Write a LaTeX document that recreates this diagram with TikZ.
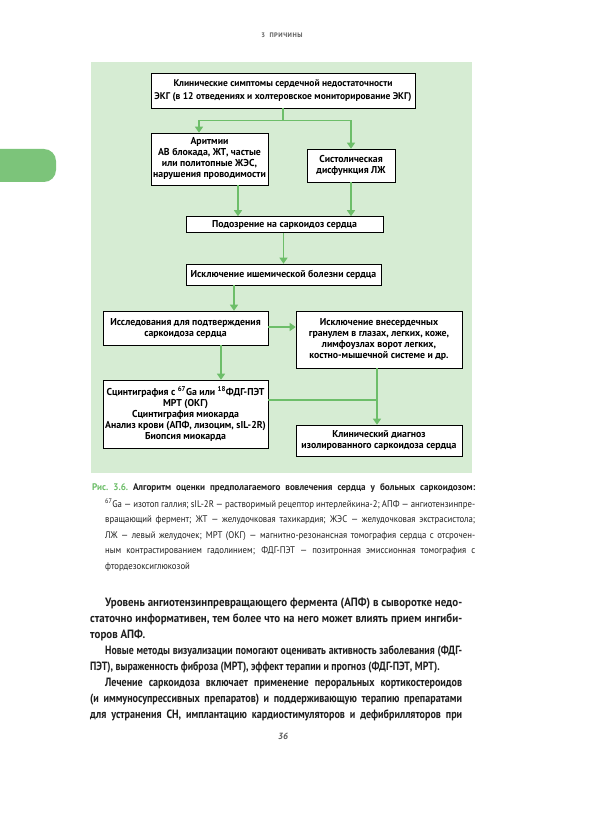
\documentclass[tikz,border=0pt]{standalone}
\usepackage{fontspec}
\setmainfont{PT Sans}
\newfontfamily\flowfont{PT Sans}[FakeStretch=0.98]
\newfontfamily\capfont{PT Sans}[FakeStretch=0.91]
\newfontfamily\capwide{PT Sans}[FakeStretch=0.95]
\newfontfamily\bodyfont{PT Sans}[FakeStretch=0.91]
\newfontfamily\bodytight{PT Sans}[FakeStretch=0.82]
\newfontfamily\bodymid{PT Sans}[FakeStretch=0.84]
\usepackage{xcolor}
\definecolor{panel}{HTML}{D6ECD3}
\definecolor{arrowgreen}{HTML}{6DBE69}
\definecolor{tabgreen}{HTML}{7CC47A}
\definecolor{textgray}{HTML}{5A5A5A}
\definecolor{bodytext}{HTML}{1E1E1E}
\usetikzlibrary{arrows.meta, positioning, calc, shadows}

\begin{document}
\begin{tikzpicture}[x=1pt, y=-1pt,
  every node/.style={font=\flowfont\fontsize{10}{11}\selectfont\bfseries},
  flowbox/.style={draw=black, line width=0.6pt, fill=white, align=center,
                  inner sep=2pt, drop shadow={shadow xshift=0.9pt,
                  shadow yshift=-0.9pt, fill=black!60, opacity=1}},
  flowarr/.style={-{Triangle[length=6pt, width=8pt]}, line width=1.4pt, arrowgreen},
  flowline/.style={line width=1.4pt, arrowgreen}
]
  \useasboundingbox (0,0) rectangle (590,834);
  \fill[white] (0,0) rectangle (590,834);

  % page furniture
  \fill[tabgreen, rounded corners=12pt] (-20,149) rectangle (56,182);
  \node[font=\fontsize{6.5}{8}\selectfont\bfseries, text=textgray] (head) at (282,35)
    {\addfontfeatures{LetterSpace=8}3\ \ ПРИЧИНЫ};
  \fill[panel] (91,62) rectangle (472,473);

  % flowchart
  \node[flowbox, minimum width=264pt, minimum height=35pt,
        font=\flowfont\fontsize{9.7}{12.5}\selectfont\bfseries] (clin) at (283,90.5)
    {Клинические симптомы сердечной недостаточности\\ЭКГ (в 12 отведениях и холтеровское мониторирование ЭКГ)};
  \node[flowbox, minimum width=117pt, minimum height=52pt] (arrh) at (209.5,159)
    {Аритмии\\АВ блокада, ЖТ, частые\\или политопные ЖЭС,\\нарушения проводимости};
  \node[flowbox, minimum width=88pt, minimum height=33pt] (sys) at (351,165.5)
    {Систолическая\\дисфункция ЛЖ};
  \node[flowbox, minimum width=197pt, minimum height=16pt] (susp) at (284.5,224.5)
    {Подозрение на саркоидоз сердца};
  \node[flowbox, minimum width=195pt, minimum height=21pt] (isch) at (283.5,274.5)
    {Исключение ишемической болезни сердца};
  \node[flowbox, minimum width=165pt, minimum height=34pt] (studies) at (185.5,328)
    {Исследования для подтверждения\\саркоидоза сердца};
  \node[flowbox, minimum width=166pt, minimum height=57pt] (extra) at (379,339.5)
    {Исключение внесердечных\\гранулем в глазах, легких, коже,\\лимфоузлах ворот легких,\\костно-мышечной системе и др.};
  \node[flowbox, minimum width=165pt, minimum height=68pt] (scint) at (185.5,414)
    {Сцинтиграфия с \textsuperscript{67}Ga или \textsuperscript{18}ФДГ-ПЭТ\\МРТ (ОКГ)\\Сцинтиграфия миокарда\\Анализ крови (АПФ, лизоцим, sIL-2R)\\Биопсия миокарда};
  \node[flowbox, minimum width=166pt, minimum height=31pt] (diag) at (379,440.5)
    {Клинический диагноз\\изолированного саркоидоза сердца};

  \draw[flowline] (clin.south) -- ++(0,12) coordinate (split);
  \draw[flowarr] (split) -| ([xshift=-10.5pt]arrh.north);
  \draw[flowarr] (split) -| (sys.north);
  \draw[flowarr] ([xshift=28.5pt]arrh.south) -- ([xshift=28.5pt]arrh.south |- susp.north);
  \draw[flowarr] (sys.south) -- (sys.south |- susp.north);
  \draw[flowarr] ([xshift=-1pt]susp.south) -- ([xshift=-1pt]susp.south |- isch.north);
  \draw[flowarr] ([xshift=-49.5pt]isch.south) -- ([xshift=-49.5pt]isch.south |- studies.north);
  \draw[flowarr] ([yshift=1pt]studies.east) -- ([yshift=1pt]studies.east -| extra.west);
  \draw[flowarr] ([xshift=35.5pt]studies.south) -- ([xshift=35.5pt]studies.south |- scint.north);
  \coordinate (join) at ([xshift=-2pt]extra.south);
  \draw[flowarr] (join) -- (join |- diag.north);
  \draw[flowline] ([yshift=14pt]scint.east) -- ([yshift=14pt]scint.east -| join);

  % caption
  \node[anchor=north west, inner sep=0pt, text width=383pt, align=justify,
        text=bodytext, font=\capwide\fontsize{9.6}{15.5}\selectfont\bfseries] (capline) at (92,483)
    {\frenchspacing{\color{arrowgreen}Рис. 3.6.} Алгоритм оценки предполагаемого вовлечения сердца у больных саркоидозом:{\parfillskip=0pt\par}};
  \node[anchor=north west, inner sep=0pt, text width=370pt, align=justify,
        text=bodytext, font=\capfont\fontsize{9.6}{15.5}\selectfont] (capbody) at (105,498.5)
    {\textsuperscript{67}Ga — изотоп галлия; sIL-2R — растворимый рецептор интерлейкина-2; АПФ — ангиотензинпре-\linebreak
     вращающий фермент; ЖТ — желудочковая тахикардия; ЖЭС — желудочковая экстрасистола;\linebreak
     ЛЖ — левый желудочек; МРТ (ОКГ) — магнитно-резонансная томография сердца с отсрочен-\linebreak
     ным контрастированием гадолинием; ФДГ-ПЭТ — позитронная эмиссионная томография с\linebreak
     фтордезоксиглюкозой};

  % body text
  \node[anchor=north west, inner sep=0pt, text width=372pt, align=justify,
        text=bodytext, font=\bodyfont\fontsize{12}{16}\selectfont\bfseries] (body) at (90,598)
    {\parindent=15pt\hspace*{15pt}Уровень ангиотензинпревращающего фермента (АПФ) в сыворотке недо-\linebreak
     статочно информативен, тем более что на него может влиять прием ингиби-\linebreak
     торов АПФ.\par
     {\bodytight Новые методы визуализации помогают оценивать активность заболевания (ФДГ-\linebreak
     ПЭТ), выраженность фиброза (МРТ), эффект терапии и прогноз (ФДГ-ПЭТ, МРТ).\par}
     {\bodymid Лечение саркоидоза включает применение пероральных кортикостероидов\linebreak
     (и иммуносупрессивных препаратов) и поддерживающую терапию препаратами\linebreak
     для устранения СН, имплантацию кардиостимуляторов и дефибрилляторов при{\parfillskip=0pt\par}}};

  \node[font=\fontsize{9}{10}\selectfont\bfseries\itshape, text=textgray] (pagenum) at (283,736) {36};
\end{tikzpicture}
\end{document}
